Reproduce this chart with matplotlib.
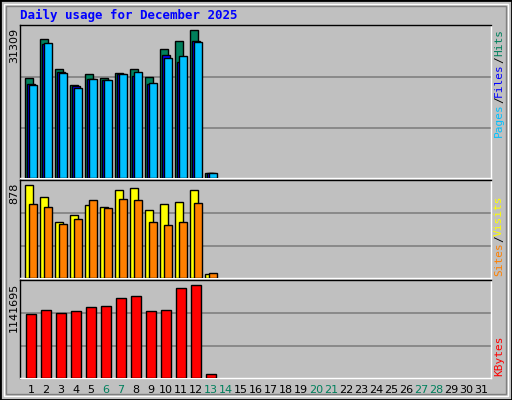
import matplotlib
matplotlib.use("Agg")
import matplotlib.pyplot as plt
from matplotlib.patches import Rectangle

days = list(range(1, 32))
hits  = [20590, 28680, 22460, 19140, 21420, 20590, 21700, 22460, 20800, 26600, 28260, 30540, 1040]
files = [19350, 27780, 21900, 18930, 20380, 20250, 21560, 21080, 19350, 25360, 23980, 28260, 1040]
pages = [19140, 27850, 21630, 18520, 20380, 20180, 21420, 21840, 19560, 24740, 25150, 28050, 1040]
visits = [841, 732, 504, 568, 659, 641, 796, 814, 614, 668, 687, 796, 40]
sites  = [668, 641, 486, 532, 705, 632, 714, 705, 504, 477, 504, 678, 49]
kbytes = [758000, 806000, 770000, 794000, 830000, 842000, 938000, 962000, 794000, 806000, 1058000, 1094000, 52000]
max_hits, max_visits, max_kb = 31309, 878, 1141695
weekend = {6, 7, 13, 14, 20, 21, 27, 28}
title = "Daily usage for December 2025"

W, H = 512, 400
fig = plt.figure(figsize=(W/100, H/100), dpi=100)
fig.patch.set_facecolor("#c0c0c0")
fig.patches.append(Rectangle((0, 0), 1, 1, transform=fig.transFigure, fill=False, ec="black", lw=2))
fig.patches.append(Rectangle((4/W, 4/H), 1-8/W, 1-8/H, transform=fig.transFigure, fill=False, ec="white", lw=1))
fig.patches.append(Rectangle((6/W, 6/H), 1-12/W, 1-12/H, transform=fig.transFigure, fill=False, ec="#808080", lw=1))

mono = "DejaVu Sans Mono"
fig.text(20/W, 1-15/H, title, color="#0000ff", fontweight="bold", family=mono, fontsize=9, va="center")

L, R = 20, 491
def mkax(top, bot):
    ax = fig.add_axes([L/W, 1-bot/H, (R-L)/W, (bot-top)/H])
    ax.set_facecolor("#c0c0c0")
    ax.set_xlim(1-11/15, 1+460/15)
    ax.set_xticks([]); ax.set_yticks([])
    for s in ax.spines.values():
        s.set_color("black"); s.set_linewidth(1)
    ax.spines["right"].set_color("white"); ax.spines["bottom"].set_color("white")
    return ax

def bars(ax, vals, left, width, color):
    x = [d + left + width/2 for d in days[:len(vals)]]
    ax.bar(x, vals, width=width, color=color, edgecolor="black", linewidth=1, zorder=3)

def grid(ax, m):
    for f in (1/3, 2/3):
        ax.axhline(m*f, color="#808080", lw=1.2, zorder=1)
    ax.set_ylim(0, m*1.01)

ax1 = mkax(25, 178)
grid(ax1, max_hits)
bars(ax1, hits, -0.4, 0.53, "#00805c")
bars(ax1, files, -0.27, 0.53, "#0000ff")
bars(ax1, pages, -0.13, 0.53, "#00c0ff")

ax2 = mkax(180, 278)
grid(ax2, max_visits)
bars(ax2, visits, -0.4, 0.53, "#ffff00")
bars(ax2, sites, -0.13, 0.53, "#ff8000")

ax3 = mkax(280, 378)
grid(ax3, max_kb)
bars(ax3, kbytes, -0.33, 0.66, "#ff0000")

for top, lab in ((28, "31309"), (183, "878"), (283, "1141695")):
    fig.text(14/W, 1-top/H, lab, rotation=90, ha="center", va="top", fontsize=8, color="black")

for d in days:
    ax3.text(d, -0.12, str(d), transform=ax3.get_xaxis_transform(), ha="center", va="center",
             fontsize=8, color="#00805c" if d in weekend else "black")

def rlabel(y, parts):
    yy = 1 - y/H
    for s, c in parts:
        t = fig.text(499/W, yy, s, rotation=90, color=c, family=mono, fontsize=8, ha="center", va="bottom")
        fig.canvas.draw()
        bb = t.get_window_extent()
        yy += bb.height/H
rlabel(137, [("Pages", "#00c0ff"), ("/", "black"), ("Files", "#0000ff"), ("/", "black"), ("Hits", "#00805c")])
rlabel(276, [("Sites", "#ff8000"), ("/", "black"), ("Visits", "#ffff00")])
rlabel(376, [("KBytes", "#ff0000")])

fig.savefig("out.png", dpi=100, facecolor=fig.get_facecolor())
